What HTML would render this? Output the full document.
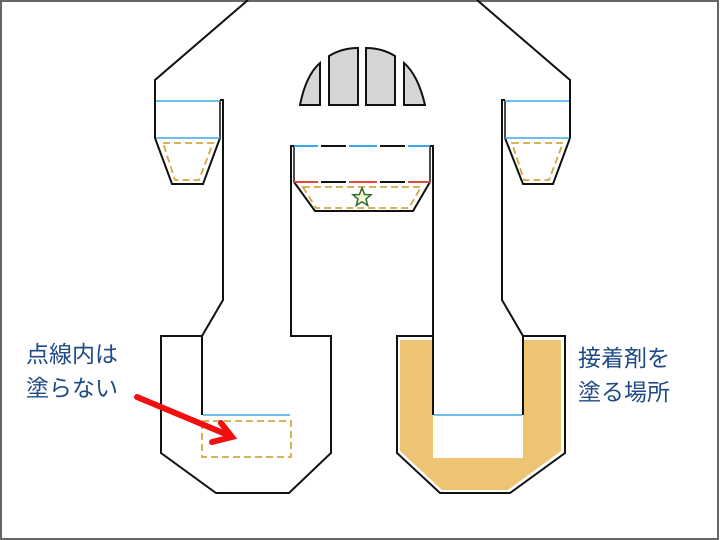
<!DOCTYPE html>
<html><head><meta charset="utf-8"><style>
html,body{margin:0;padding:0;background:#fff;}
svg{display:block;}
text{font-family:"Liberation Sans","Noto Sans CJK JP",sans-serif;font-size:23px;fill:#1f4a86;}
</style></head><body>
<svg width="720" height="540" viewBox="0 0 720 540" xmlns="http://www.w3.org/2000/svg">
<rect x="1" y="1" width="717" height="538" fill="#fff" stroke="#666" stroke-width="2"/>
<!-- gold fill right U -->
<path d="M400,340 L433,340 L433,458 L523,458 L523,340 L561,340 L561,451 L508,490 L442,490 L400,451 Z" fill="#ecc474"/>
<g fill="none" stroke="#111" stroke-width="2" stroke-linejoin="miter">
<polyline points="248,0 155,80 155,138"/>
<polyline points="220,100 223,100 223,300 202,336 161,336 161,453 216,493 289,493 331,453 331,336 291,336 291,146 294,146"/>
<polyline points="202,336 202,415"/>
<polyline points="155,138 172,184 203,184 220,138"/>
<polyline points="430,146 433,146 433,415"/>
<polyline points="294,182 315,211 413,211 430,182"/>
<line x1="294" y1="146" x2="294" y2="182" stroke-width="1.5"/>
<line x1="430" y1="146" x2="430" y2="182" stroke-width="1.5"/>
<line x1="220" y1="100" x2="220" y2="138" stroke-width="1.5"/>
<line x1="505" y1="100" x2="505" y2="138" stroke-width="1.5"/>
<polyline points="477,0 570,80 570,138"/>
<polyline points="505,100 502,100 502,300 523,336 565,336 565,453 510,493 440,493 397,453 397,336 433,336"/>
<polyline points="523,336 523,415"/>
<polyline points="505,138 523,184 553,184 570,138"/>
</g>
<g stroke="#3aa8e8" stroke-width="1.5">
<line x1="156" y1="101" x2="220" y2="101"/>
<line x1="156" y1="138" x2="220" y2="138"/>
<line x1="505" y1="101" x2="569" y2="101"/>
<line x1="505" y1="138" x2="569" y2="138"/>
<line x1="203" y1="415" x2="290" y2="415"/>
<line x1="434" y1="415" x2="522" y2="415"/>
</g>
<g stroke-width="2">
<line x1="294" y1="146" x2="318" y2="146" stroke="#3aa8e8"/>
<line x1="321" y1="146" x2="346" y2="146" stroke="#111"/>
<line x1="349" y1="146" x2="377" y2="146" stroke="#3aa8e8"/>
<line x1="380" y1="146" x2="405" y2="146" stroke="#111"/>
<line x1="408" y1="146" x2="430" y2="146" stroke="#3aa8e8"/>
<line x1="294" y1="182" x2="318" y2="182" stroke="#e04a3a"/>
<line x1="321" y1="182" x2="346" y2="182" stroke="#111"/>
<line x1="349" y1="182" x2="377" y2="182" stroke="#e04a3a"/>
<line x1="380" y1="182" x2="405" y2="182" stroke="#111"/>
<line x1="408" y1="182" x2="430" y2="182" stroke="#e04a3a"/>
</g>
<g fill="none" stroke="#d1a844" stroke-width="1.8" stroke-dasharray="7,4">
<polygon points="163,143 213,143 199,180 175,180"/>
<polygon points="512,143 563,143 549,180 524,180"/>
<polygon points="303,187 421,187 409,208 316,208"/>
<rect x="202" y="421" width="89" height="36"/>
</g>
<polygon points="362,188 364.6,194.5 371,194.8 366,199 367.7,205.5 362,201.8 356.3,205.5 358,199 353,194.8 359.4,194.5" fill="#fbf5d8" stroke="#2e6b2e" stroke-width="1.5"/>
<g fill="#d6d6d6" stroke="#111" stroke-width="2">
<path d="M300,105 Q306,75 320,63 L320,105 Z"/>
<path d="M329,105 L329,56 Q342,48 358,48 L358,105 Z"/>
<path d="M366,105 L366,48 Q382,48 395,56 L395,105 Z"/>
<path d="M404,105 L404,63 Q418,75 425,105 Z"/>
</g>
<g stroke="#f01010" stroke-width="6" stroke-linecap="round" fill="none">
<line x1="137" y1="397" x2="228" y2="435"/>
<polyline points="221,423 232,437 212,442"/>
</g>
<text x="26" y="362">点線内は</text>
<text x="26" y="396">塗らない</text>
<text x="578" y="366">接着剤を</text>
<text x="578" y="400">塗る場所</text>
</svg>
</body></html>
